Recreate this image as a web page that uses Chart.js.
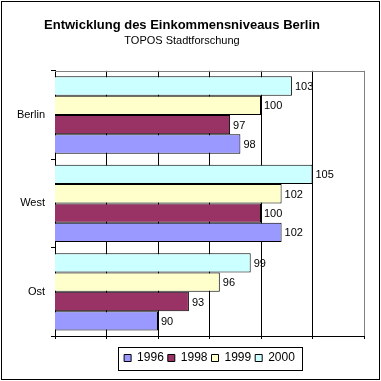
<!DOCTYPE html>
<html><head><meta charset="utf-8">
<script src="https://cdn.jsdelivr.net/npm/chart.js@4/dist/chart.umd.min.js"></script>
<style>html,body{margin:0;padding:0;background:#fff}canvas{display:block}</style>
</head><body>
<canvas id="c" width="381" height="381"></canvas>
<script>
// ---- data ----
const categories = ['Berlin', 'West', 'Ost'];
const seriesNames = ['1996', '1998', '1999', '2000'];
const values1996 = [98, 102, 90];
const values1998 = [97, 100, 93];
const values1999 = [100, 102, 96];
const values2000 = [103, 105, 99];
const axisMin = 80;
const axisMax = 110;
const axisStep = 5;
const titleText = 'Entwicklung des Einkommensniveaus Berlin';
const subtitleText = 'TOPOS Stadtforschung';

const FONT = '"Liberation Sans", Arial, sans-serif';
Chart.defaults.color = '#000';
Chart.defaults.font.family = FONT;

const outerFrame = {
  id: 'outerFrame',
  beforeDraw(chart) {
    const c = chart.ctx;
    c.save();
    c.fillStyle = '#fff';
    c.fillRect(0, 0, chart.width, chart.height);
    c.strokeStyle = '#000';
    c.lineWidth = 1;
    c.strokeRect(1.5, 1.5, chart.width - 3, chart.height - 3);
    c.restore();
  }
};

const plotTop = {
  id: 'plotTop',
  beforeDatasetsDraw(chart) {
    const a = chart.chartArea, c = chart.ctx;
    c.save();
    c.strokeStyle = '#808080';
    c.lineWidth = 1;
    const y = Math.round(a.top) + 0.5;
    c.beginPath();
    c.moveTo(a.left, y);
    c.lineTo(a.right, y);
    c.stroke();
    c.restore();
  }
};

const valueLabels = {
  id: 'valueLabels',
  afterDatasetsDraw(chart) {
    const c = chart.ctx;
    c.save();
    c.font = '11px ' + FONT;
    c.fillStyle = '#000';
    c.textBaseline = 'middle';
    c.textAlign = 'left';
    chart.data.datasets.forEach((ds, di) => {
      chart.getDatasetMeta(di).data.forEach((bar, i) => {
        c.fillText(String(ds.data[i]), bar.x + 3, bar.y + 1);
      });
    });
    c.restore();
  }
};

const legendBox = {
  id: 'legendBox',
  afterLayout(chart) {
    const lg = chart.legend, a = chart.chartArea;
    if (!lg) return;
    const w = lg.right - lg.left;
    const cx = (a.left + a.right) / 2;
    lg.left = cx - w / 2;
    lg.right = lg.left + w;
  },
  afterDraw(chart) {
    const lg = chart.legend;
    if (!lg || !lg.legendHitBoxes || !lg.legendHitBoxes.length) return;
    let minX = Infinity, maxX = -Infinity, cy = 0;
    lg.legendHitBoxes.forEach(h => {
      minX = Math.min(minX, h.left);
      maxX = Math.max(maxX, h.left + h.width);
      cy = h.top + h.height / 2;
    });
    const c = chart.ctx;
    c.save();
    c.strokeStyle = '#000';
    c.lineWidth = 1;
    const l = Math.round(minX - 6) + 0.5;
    const r = Math.round(maxX + 7) + 0.5;
    const t = Math.round(cy - 11.5) + 0.5;
    const b = Math.round(cy + 11.5) + 0.5;
    c.strokeRect(l, t, r - l, b - t);
    c.restore();
  }
};

const ds = (label, data, color) => ({
  label, data,
  backgroundColor: color,
  borderColor: '#000',
  borderWidth: 1,
  borderSkipped: false,
  categoryPercentage: 0.875,
  barPercentage: 1
});

new Chart(document.getElementById('c'), {
  type: 'bar',
  data: {
    labels: categories,
    datasets: [
      ds(seriesNames[3], values2000, '#CCFFFF'),
      ds(seriesNames[2], values1999, '#FFFFCC'),
      ds(seriesNames[1], values1998, '#993366'),
      ds(seriesNames[0], values1996, '#9999FF')
    ]
  },
  options: {
    indexAxis: 'y',
    responsive: false,
    animation: false,
    devicePixelRatio: 1,
    layout: { padding: { top: 10, left: 0, right: 17, bottom: 7 } },
    scales: {
      x: {
        min: axisMin, max: axisMax,
        ticks: { display: false, stepSize: axisStep },
        grid: {
          color: (ctx) => (ctx.tick && ctx.tick.value === axisMax) ? '#808080' : '#000',
          tickColor: '#000',
          tickLength: 3,
          drawTicks: true
        },
        border: { display: true, color: '#000' },
        afterFit(scale) { scale.height = 12; }
      },
      y: {
        ticks: { font: { size: 11 }, color: '#000', padding: 6 },
        grid: { drawOnChartArea: false, drawTicks: true, tickLength: 4, tickColor: '#000', offset: true },
        border: { display: true, color: '#000' },
        afterFit(scale) { scale.width = 55; }
      }
    },
    plugins: {
      title: {
        display: true, text: titleText, color: '#000',
        font: { size: 13, weight: 'bold', family: FONT },
        padding: { top: 8, bottom: 0 }
      },
      subtitle: {
        display: true, text: subtitleText, color: '#000',
        font: { size: 11, family: FONT },
        padding: { top: 1, bottom: 23 }
      },
      legend: {
        position: 'bottom',
        reverse: true,
        labels: { boxWidth: 7, boxHeight: 7, padding: 4, color: '#000', font: { size: 12, family: FONT } }
      },
      tooltip: { enabled: false }
    }
  },
  plugins: [outerFrame, plotTop, valueLabels, legendBox]
});
</script>
</body></html>
